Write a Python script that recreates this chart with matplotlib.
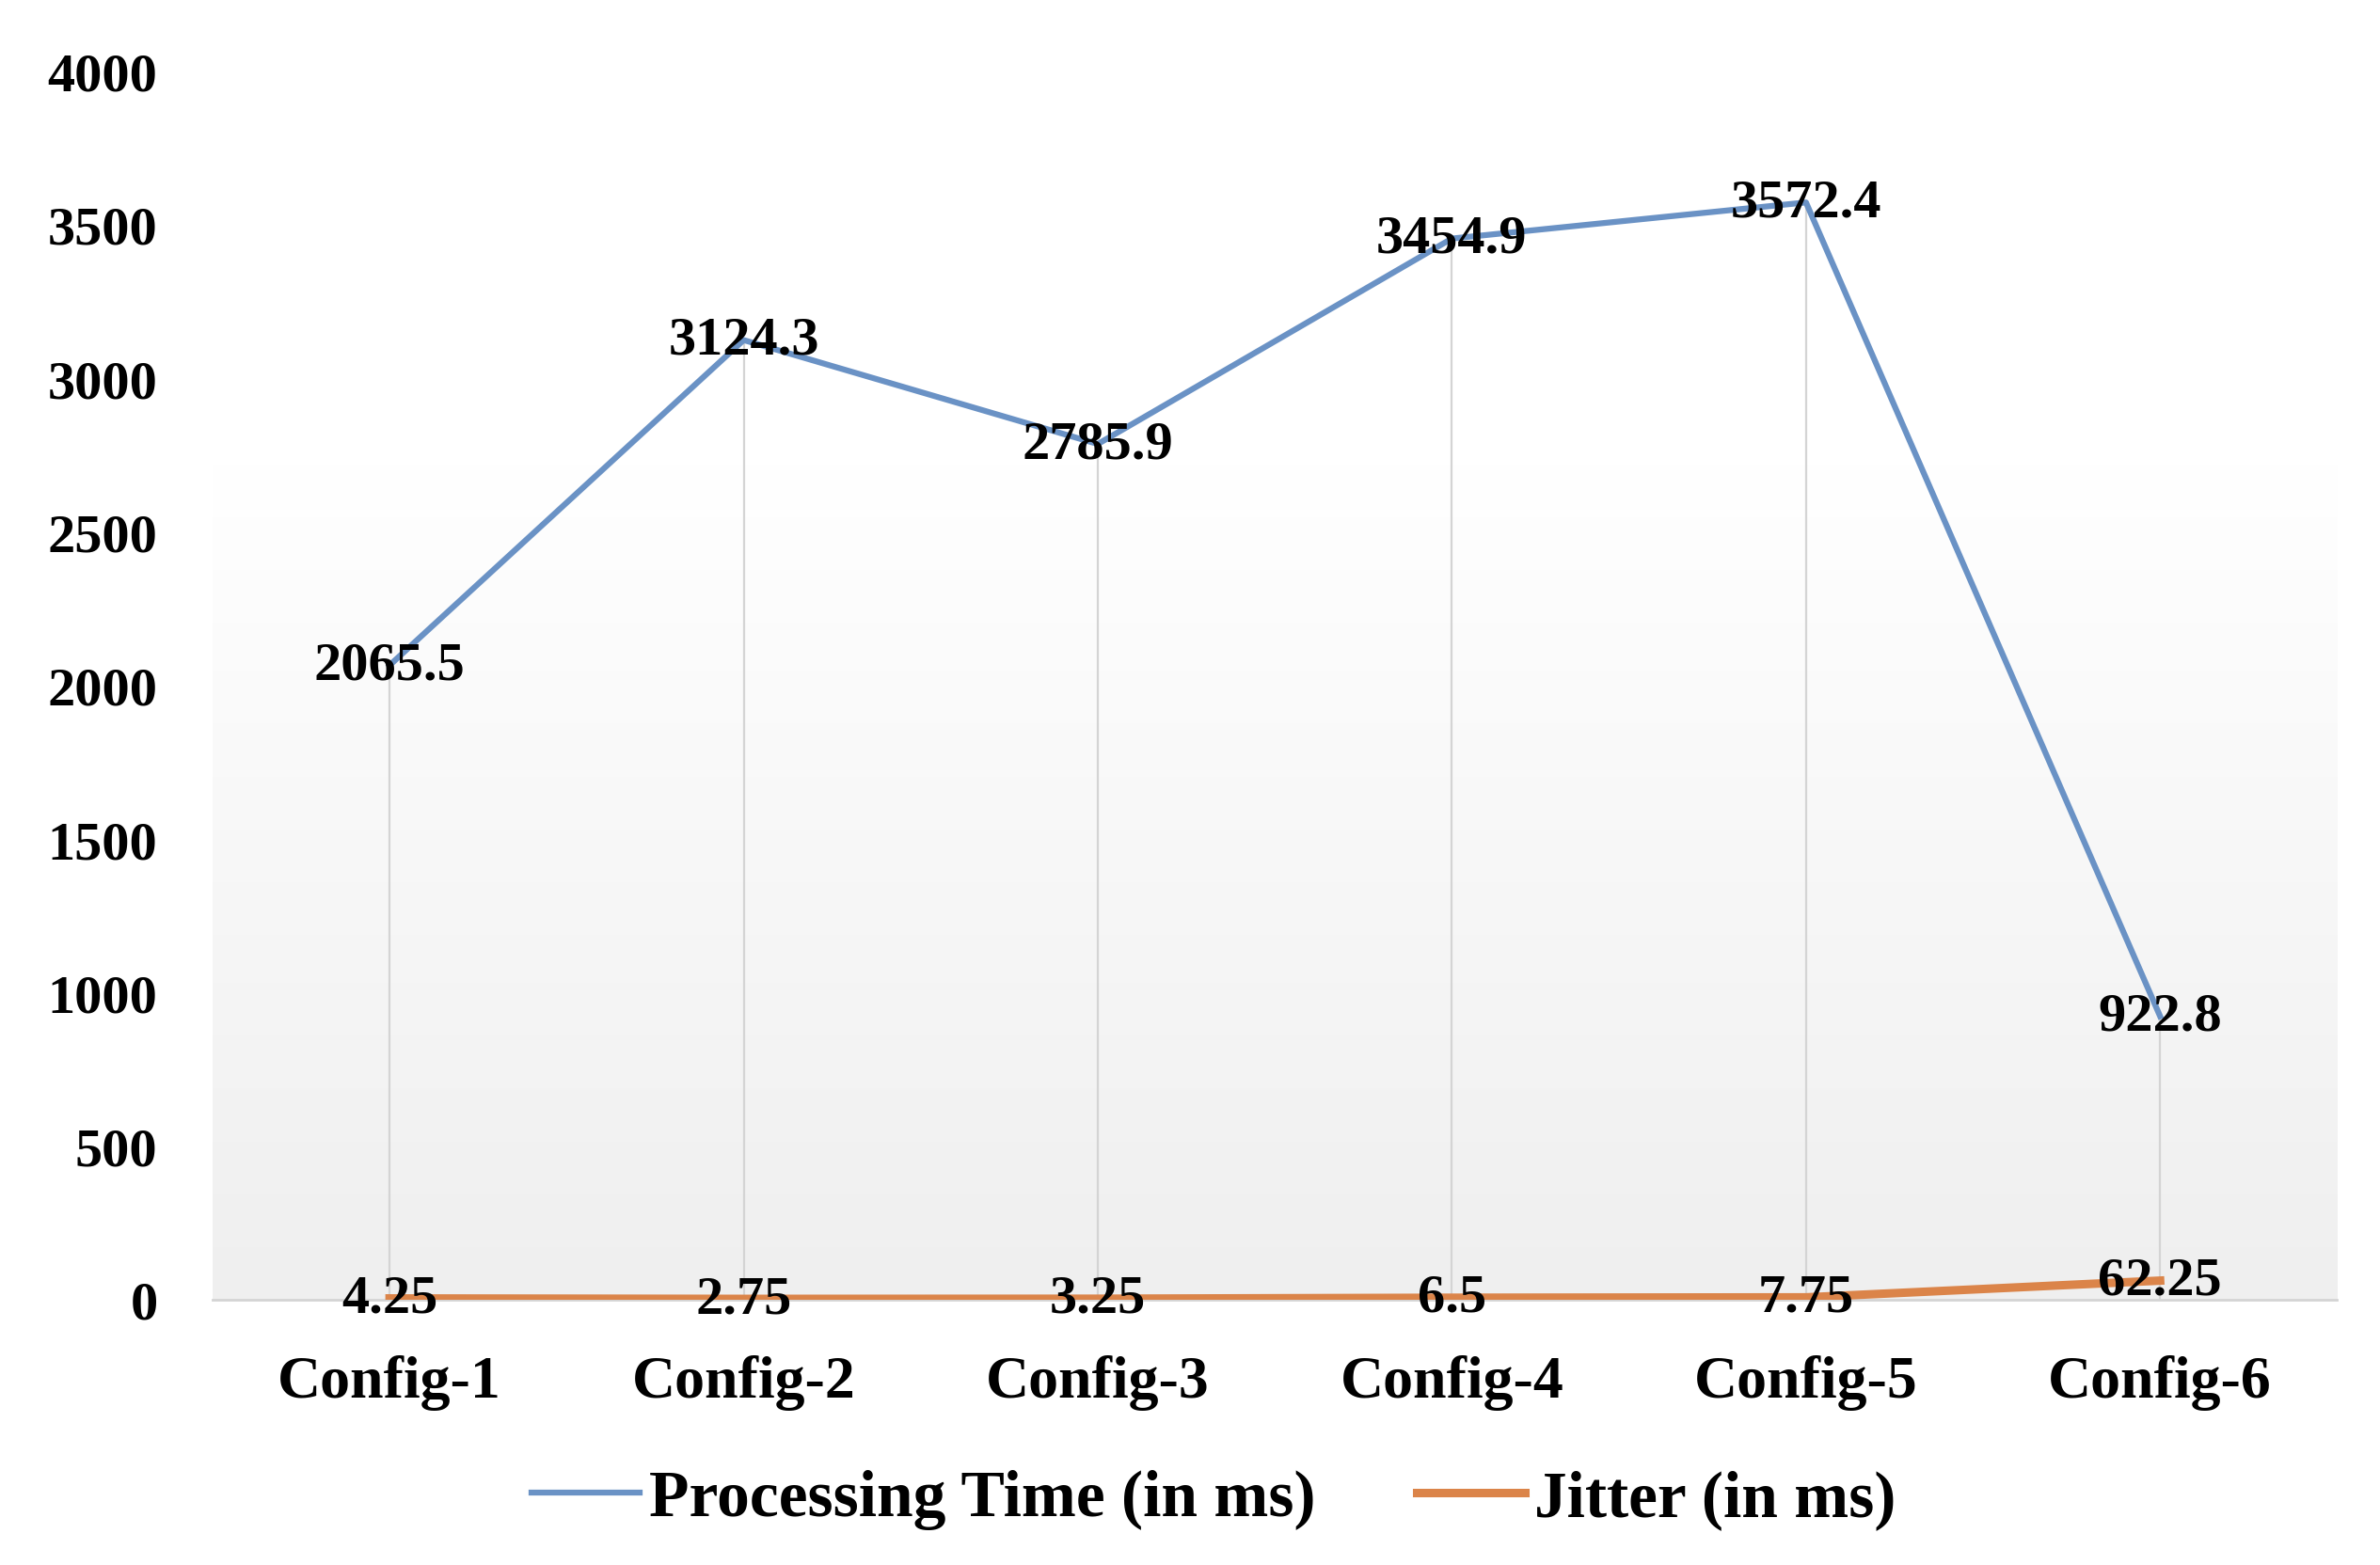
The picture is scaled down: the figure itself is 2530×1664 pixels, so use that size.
import numpy as np
import matplotlib
matplotlib.use('Agg')
import matplotlib.pyplot as plt
from matplotlib.colors import LinearSegmentedColormap

plt.rcParams['font.family'] = ['Liberation Serif', 'DejaVu Serif']
plt.rcParams['font.weight'] = 'bold'

configs = ['Config-1', 'Config-2', 'Config-3', 'Config-4', 'Config-5', 'Config-6']
processing_time = [2065.5, 3124.3, 2785.9, 3454.9, 3572.4, 922.8]
jitter = [4.25, 2.75, 3.25, 6.5, 7.75, 62.25]
proc_labels = ['2065.5', '3124.3', '2785.9', '3454.9', '3572.4', '922.8']
jitter_labels = ['4.25', '2.75', '3.25', '6.5', '7.75', '62.25']
yticks = np.arange(0, 4001, 500)

blue = '#6A92C5'
orange = '#DB8449'

fig = plt.figure(figsize=(25.3, 16.65), dpi=100)
ax = fig.add_axes([0.0893, 0.1694, 0.8927, 0.7846])

x = np.arange(len(configs))
ax.set_xlim(-0.5, len(configs) - 0.5)
ax.set_ylim(0, 4000)

# plot-area gradient: white at top fading to light grey at the bottom
cmap = LinearSegmentedColormap.from_list('bg', [(0, '#efefef'), (0.68, '#ffffff'), (1, '#ffffff')])
grad = np.linspace(0, 1, 256).reshape(-1, 1)
ax.imshow(grad, cmap=cmap, aspect='auto', origin='lower',
          extent=(-0.5, len(configs) - 0.5, 0, 4000), zorder=0)

# drop lines
ax.vlines(x, 0, processing_time, color='#d4d4d4', lw=1.6, zorder=1)

ax.plot(x, processing_time, color=blue, lw=4.5, label='Processing Time (in ms)', zorder=3)
ax.plot(x, jitter, color=orange, lw=6.5, label='Jitter (in ms)', zorder=3)

for xi, v, s in zip(x, processing_time, proc_labels):
    ax.text(xi, v, s, ha='center', va='center', fontsize=42, fontweight='bold', zorder=4)
for xi, v, s in zip(x, jitter, jitter_labels):
    ax.text(xi, v, s, ha='center', va='center', fontsize=42, fontweight='bold', zorder=4)

ax.set_xticks(x)
ax.set_xticklabels(configs, fontsize=46, fontweight='bold')
ax.set_yticks(yticks)
ax.set_yticklabels([str(t) for t in yticks], fontsize=42, fontweight='bold')
ax.tick_params(axis='both', length=0)
ax.tick_params(axis='x', pad=42)
ax.tick_params(axis='y', pad=42)

for side in ['top', 'right', 'left']:
    ax.spines[side].set_visible(False)
ax.spines['bottom'].set_color('#d4d4d4')
ax.spines['bottom'].set_linewidth(2)
ax.spines['bottom'].set_zorder(2)

fig.legend(loc='center', bbox_to_anchor=(0.51, 0.042), ncol=2, frameon=False,
           prop={'size': 50, 'weight': 'bold'}, handlelength=1.65,
           handletextpad=0.15, columnspacing=1.55)

fig.savefig('out.png', dpi=100)
